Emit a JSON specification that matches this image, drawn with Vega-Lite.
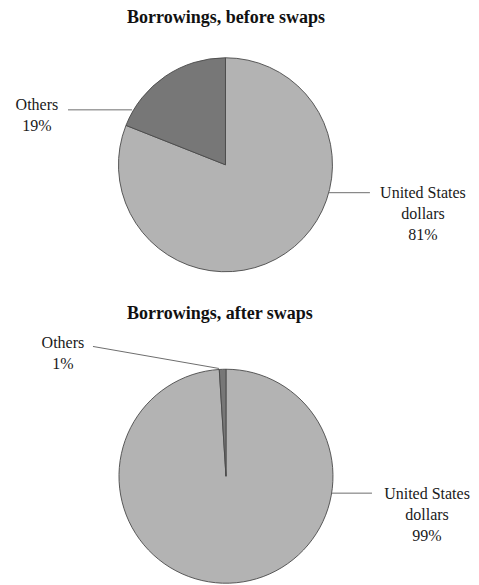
{
  "$schema": "https://vega.github.io/schema/vega-lite/v6.json",
  "width": 479,
  "height": 585,
  "padding": 0,
  "autosize": {"type": "fit", "contains": "padding"},
  "config": {"view": {"stroke": null}},
  "datasets": {
    "charts": [
      {"chart": "before", "title": "Borrowings, before swaps", "cx": 0, "cy": 1.5, "tx": 0.005, "ty": 2.913},
      {"chart": "after", "title": "Borrowings, after swaps", "cx": 0.005, "cy": -1.5, "tx": -0.053, "ty": 0.058}
    ],
    "slices": [
      {"chart": "before", "currency": "United States dollars", "share": 81},
      {"chart": "before", "currency": "Others", "share": 19},
      {"chart": "after", "currency": "United States dollars", "share": 99},
      {"chart": "after", "currency": "Others", "share": 1}
    ],
    "labels": [
      {"chart": "before", "label": "Others|19%", "lx": -1.813, "ly": 2.077},
      {"chart": "before", "label": "United States|dollars|81%", "lx": 1.899, "ly": 1.231},
      {"chart": "after", "label": "Others|1%", "lx": -1.563, "ly": -0.212},
      {"chart": "after", "label": "United States|dollars|99%", "lx": 1.938, "ly": -1.673}
    ],
    "leaders": [
      {"chart": "before", "x1": -1.514, "y1": 2.029, "x2": -0.899, "y2": 2.029},
      {"chart": "before", "x1": 0.995, "y1": 1.231, "x2": 1.389, "y2": 1.231},
      {"chart": "after", "x1": -1.274, "y1": -0.25, "x2": -0.063, "y2": -0.462},
      {"chart": "after", "x1": 1.024, "y1": -1.663, "x2": 1.409, "y2": -1.663}
    ]
  },
  "layer": [
    {
      "data": {"name": "slices"},
      "transform": [
        {"lookup": "chart", "from": {"data": {"name": "charts"}, "key": "chart", "fields": ["cx", "cy"]}},
        {"stack": "share", "groupby": ["chart"], "sort": [{"field": "currency", "order": "descending"}], "as": ["start", "end"]}
      ],
      "mark": {"type": "arc", "outerRadius": 107, "stroke": "#4a4a4a", "strokeWidth": 0.9},
      "encoding": {
        "x": {"field": "cx", "type": "quantitative", "scale": {"domain": [-2.168, 2.438], "nice": false, "zero": false}, "axis": null},
        "y": {"field": "cy", "type": "quantitative", "scale": {"domain": [-2.538, 3.087], "nice": false, "zero": false}, "axis": null},
        "theta": {"field": "start", "type": "quantitative", "scale": {"domain": [0, 100], "range": [0, 6.283185]}},
        "theta2": {"field": "end"},
        "color": {"field": "currency", "type": "nominal", "scale": {"domain": ["United States dollars", "Others"], "range": ["#b3b3b3", "#777777"]}, "legend": null}
      }
    },
    {
      "data": {"name": "leaders"},
      "mark": {"type": "rule", "color": "#6e6e6e", "strokeWidth": 1},
      "encoding": {
        "x": {"field": "x1", "type": "quantitative", "scale": {"domain": [-2.168, 2.438], "nice": false, "zero": false}, "axis": null},
        "y": {"field": "y1", "type": "quantitative", "scale": {"domain": [-2.538, 3.087], "nice": false, "zero": false}, "axis": null},
        "x2": {"field": "x2"},
        "y2": {"field": "y2"}
      }
    },
    {
      "data": {"name": "labels"},
      "mark": {"type": "text", "font": "Liberation Serif", "fontSize": 16, "lineBreak": "|", "lineHeight": 21, "align": "center", "baseline": "middle", "color": "#1a1a1a"},
      "encoding": {
        "x": {"field": "lx", "type": "quantitative", "scale": {"domain": [-2.168, 2.438], "nice": false, "zero": false}, "axis": null},
        "y": {"field": "ly", "type": "quantitative", "scale": {"domain": [-2.538, 3.087], "nice": false, "zero": false}, "axis": null},
        "text": {"field": "label"}
      }
    },
    {
      "data": {"name": "charts"},
      "mark": {"type": "text", "font": "Liberation Serif", "fontSize": 18, "fontWeight": "bold", "align": "center", "baseline": "middle", "color": "#111111"},
      "encoding": {
        "x": {"field": "tx", "type": "quantitative", "scale": {"domain": [-2.168, 2.438], "nice": false, "zero": false}, "axis": null},
        "y": {"field": "ty", "type": "quantitative", "scale": {"domain": [-2.538, 3.087], "nice": false, "zero": false}, "axis": null},
        "text": {"field": "title"}
      }
    }
  ]
}
